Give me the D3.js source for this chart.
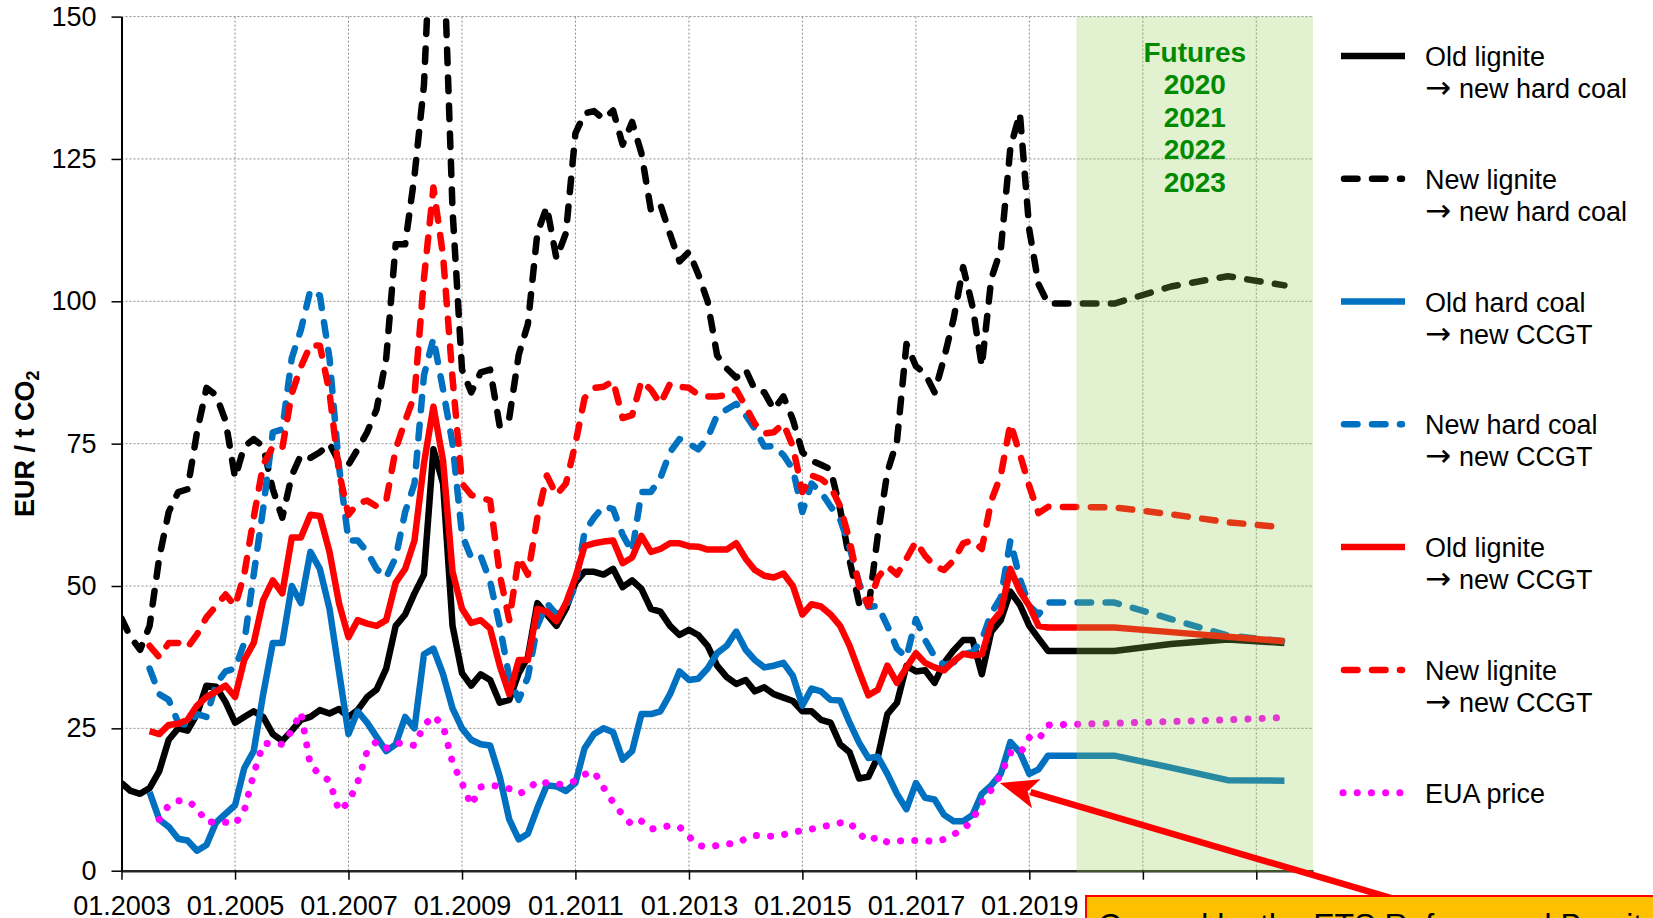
<!DOCTYPE html>
<html>
<head>
<meta charset="utf-8">
<title>Fuel switch CO2 prices</title>
<style>
body { margin: 0; background: #fff; }
svg { display: block; font-family: "Liberation Sans", Arial, sans-serif; }
.axis text { font-family: "Liberation Sans", Arial, sans-serif; font-size: 27px; fill: #000; }
.grid line { stroke: #8c8c8c; stroke-width: 1; stroke-dasharray: 2,2; }
.series { fill: none; stroke-linejoin: round; }
.legend text { font-size: 27px; fill: #000; }
.legend .arrow { font-family: "DejaVu Sans", sans-serif; font-size: 31px; }
.futures text { font-size: 28px; font-weight: bold; fill: #008a00; text-anchor: middle; }
</style>
</head>
<body>
<svg width="1653" height="918"></svg>
<script src="https://cdnjs.cloudflare.com/ajax/libs/d3/7.8.5/d3.min.js"></script>
<script>
// historic values: one point every 2 months from 01.2003 to 03.2019
const histStart = "2003-01";
// futures points (first one repeats the 2020 contract)
const futureDates = ["2019-05", "2020-07", "2021-07", "2022-07", "2023-07"];
const yTicks = [0, 25, 50, 75, 100, 125, 150];
const xTickYears = [2003, 2005, 2007, 2009, 2011, 2013, 2015, 2017, 2019, 2021, 2023];
const futuresLabel = ["Futures", "2020", "2021", "2022", "2023"];
const legendLabels = [
  ["Old lignite", "new hard coal"],
  ["New lignite", "new hard coal"],
  ["Old hard coal", "new CCGT"],
  ["New hard coal", "new CCGT"],
  ["Old lignite", "new CCGT"],
  ["New lignite", "new CCGT"],
  ["EUA price"]
];

const oldLigniteHardCoal = [
  15.4, 14, 13.5, 14.5, 17.5, 23,
  25, 24.6, 27.5, 32.5, 32.3, 29.6,
  26, 27, 28, 27, 24, 22.8,
  24.6, 26.5, 27, 28.2, 27.6, 28.4,
  27, 28.2, 30.5, 31.8, 35.5, 43,
  45, 48.7, 52, 74, 68, 43,
  34.7, 32.5, 34.5, 33.5, 29.5, 30,
  34.7, 37.5, 47, 45, 43, 46,
  50.6, 52.5, 52.5, 52, 53, 49.8,
  51, 49.5, 46, 45.5, 43, 41.4,
  42.3, 41.4, 39.5, 36, 34, 32.8,
  33.5, 31.5, 32.2, 31, 30.4, 29.8,
  28, 28, 26.5, 26, 22.2, 20.8,
  16.2, 16.5, 20, 27.5, 29.5, 36,
  35, 35.2, 33, 36.5, 38.7, 40.5,
  40.5, 34.5, 42, 44, 49, 46.7,
  43, 40.8
];
const oldLigniteHardCoalFut = [38.6, 38.6, 39.8, 40.6, 40.0];

const newLigniteHardCoal = [
  44.3, 41, 38.8, 43, 55, 63,
  66.5, 67, 77, 84.8, 83.5, 79,
  69, 74.5, 75.8, 74.5, 67, 62,
  69.4, 73, 72.5, 73.5, 75, 71.8,
  71.3, 74, 77, 81, 90, 110,
  110, 122, 138, 175, 165, 116,
  88, 84, 87.5, 88, 78, 79.5,
  90.6, 96, 112, 116.6, 107.5, 112,
  129.5, 133, 133.4, 132, 133.5, 127.5,
  131.5, 126, 116, 117, 111.8, 107,
  108.7, 104.8, 100, 90.5, 88.2, 86.6,
  88, 84.5, 84, 81, 83.3, 79.2,
  73.5, 72, 71.3, 70.5, 63.5, 54.5,
  47, 46, 59, 70, 75.5, 92.5,
  88.6, 87.3, 84, 90, 97, 106,
  99, 88.6, 104, 109, 127, 133,
  112.5, 103
];
const newLigniteHardCoalFut = [99.6, 99.6, 102.6, 104.4, 102.8];

const oldHardCoalCCGT = [
  null, null, null, 13.8, 9, 7.7,
  5.6, 5.3, 3.5, 4.5, 8.5, 10,
  11.5, 18, 21, 31, 40, 40,
  50, 47, 56, 53, 46, 35,
  24, 28, 26, 23.5, 21, 22.2,
  27, 25, 38, 39, 34.5, 28.5,
  25, 23, 22.2, 22, 16.5, 9,
  5.5, 6.5, 11, 15, 14.8, 14,
  15.4, 21.5, 24, 25, 24.3, 19.5,
  21, 27.5, 27.5, 28, 31, 35,
  33.5, 33.7, 35.5, 38.2, 39.5, 42,
  38.8, 37, 35.7, 36, 36.5, 34.2,
  29, 32, 31.5, 30, 29.9, 26,
  22.5, 19.8, 20, 17, 13.5, 10.8,
  15.4, 12.8, 12.5, 9.8, 8.7, 8.7,
  9.8, 13.5, 15, 17, 22.6, 20.8,
  17, 17.8
];
const oldHardCoalCCGTFut = [20.2, 20.2, 18.1, 15.9, 15.8];

const newHardCoalCCGT = [
  null, null, null, 35.5, 31, 30,
  26, 25.5, 27.5, 27, 32.8, 35,
  35.5, 40, 52, 63.6, 77, 77.5,
  90, 95, 102, 101, 90, 71,
  58, 58, 56, 53, 51.5, 55,
  63, 68, 87, 93.5, 84.5, 75,
  59, 55, 55.3, 50.8, 43, 34,
  30, 34, 43, 47, 45, 46.5,
  50, 59.5, 62, 64, 63.5, 59,
  56, 66.5, 66.5, 69, 73.5, 75.8,
  75, 74, 76, 80, 81, 82,
  80, 77.6, 74.5, 74.6, 73, 70.5,
  63, 68, 66.5, 64, 61.7, 56.8,
  50.5, 46.3, 46.5, 43, 39, 37.5,
  44.2, 40.5, 37.6, 36.1, 36.6, 38,
  38.4, 40.5, 45.2, 48, 58, 51.3,
  46.5, 45
];
const newHardCoalCCGTFut = [47.1, 47.1, 44.2, 41.3, 40.3];

const oldLigniteCCGT = [
  null, null, null, 24.5, 24, 25.6,
  25.8, 26.5, 29, 30.5, 31.5, 32.5,
  30.5, 37, 40, 47.5, 51, 48.7,
  58.5, 58.5, 62.5, 62.3, 56, 47,
  41, 44, 43.4, 43, 44, 50.6,
  53, 58, 71.5, 81.5, 72, 52.5,
  46, 43.5, 44, 42.5, 36, 31,
  37, 37, 46, 45.5, 43.8, 47,
  51.5, 57, 57.5, 57.8, 58, 54,
  55, 58.8, 56, 56.5, 57.5, 57.5,
  57, 56.9, 56.4, 56.4, 56.4, 57.5,
  54.8, 52.8, 51.8, 51.5, 52.2, 50,
  45, 46.8, 46.4, 45, 43, 39.5,
  35, 30.8, 31.8, 36, 33, 35.7,
  38.2, 36.5, 35.7, 35.2, 36.8, 38.1,
  37.8, 38, 43.5, 45.5, 53, 49.1,
  46.5, 43
];
const oldLigniteCCGTFut = [42.7, 42.7, 41.9, 41.1, 40.3];

const newLigniteCCGT = [
  null, null, null, 39.5, 37.5, 40,
  40, 39.2, 41.5, 44.5, 46.5, 48.5,
  46.5, 52, 62, 71.3, 74.5, 74.2,
  83.8, 88.5, 92.3, 92.2, 84, 70,
  62.5, 64.5, 65, 64, 65, 74,
  79, 83.5, 104, 120, 108, 86.5,
  68, 66, 65.5, 65, 52, 44,
  55, 52, 62, 69.4, 66, 68,
  75, 83, 84.8, 85, 86, 79.5,
  80, 86, 84.5, 82, 85.5, 85,
  84.8, 83.6, 83.3, 83.3, 83.5, 84.5,
  81.5, 78.5, 76.8, 77, 78.5, 74.5,
  66.5, 69.4, 68.8, 67.5, 64, 58,
  50, 46.5, 51.5, 53.5, 52, 54.8,
  57.8, 55.3, 53.5, 52.8, 54.5, 57.5,
  58, 56.5, 65, 69.4, 78.5, 73.2,
  67.5, 62.8
];
const newLigniteCCGTFut = [63.9, 63.8, 62.6, 61.2, 60.3];

const euaPrice = [
  null, null, null, null, 9, 11.5,
  12.3, 12.3, 11, 8.5, 8.6, 8.5,
  8.2, 10.5, 17, 22.3, 22.4, 22.2,
  24.6, 27.8, 18.5, 16.9, 15.8, 10.5,
  12, 15.5, 21, 22.7, 21.5, 22.5,
  22.2, 22, 25.5, 27.2, 25.5, 19,
  15.4, 11.5, 14.7, 15, 14.8, 14.4,
  13.5, 14.2, 15.8, 15.4, 15.2, 15.2,
  15.8, 16.9, 17.4, 14.6, 12, 9.8,
  8, 8.7, 7.3, 7.6, 7.9, 7.7,
  6, 4.4, 4.2, 4.4, 4.7, 4.8,
  5.6, 6.2, 6, 6.1, 6.3, 6.8,
  7, 7.3, 7.7, 8, 8.4, 8.5,
  6.5, 5.2, 6, 5, 5.2, 5.3,
  5.3, 5.3, 5.1, 5.5, 6.4, 7.2,
  9, 12, 14.2, 16.9, 20.7, 20.5,
  23.4, 23
];
const euaPriceFut = [25.6, 25.9, 26.2, 26.5, 26.9];

// annotation arrow (date, value)
const arrowTip = {date: "2018-06-25", value: 15.4};
const arrowTail = {date: "2025-06-10", value: -5};

let svg = d3.select("svg"),
    margin = {top: 16.6, left: 121.5},
    width = 1191.5,
    height = 854.1,
    g = svg.append("g").attr("transform", "translate(" + margin.left + "," + margin.top + ")");

let parseMonth = d3.timeParse("%Y-%m"),
    parseDay = d3.timeParse("%Y-%m-%d");
let histDates = oldLigniteHardCoal.map((d, i) => d3.timeMonth.offset(parseMonth(histStart), 2 * i));
let futDates = futureDates.map(parseMonth);

let x = d3.scaleTime()
    .domain([parseMonth("2003-01"), parseMonth("2024-01")])
    .range([0, width]);
let y = d3.scaleLinear()
    .domain([0, 150])
    .range([height, 0]);

let xTickDates = xTickYears.map(yr => new Date(yr, 0, 1));

// grid
let grid = g.append("g").attr("class", "grid");
grid.selectAll(".h").data(yTicks.filter(d => d > 0)).enter().append("line")
    .attr("x1", 0).attr("x2", width)
    .attr("y1", d => y(d)).attr("y2", d => y(d));
grid.selectAll(".v").data(xTickDates.slice(1)).enter().append("line")
    .attr("x1", d => x(d)).attr("x2", d => x(d))
    .attr("y1", 0).attr("y2", height);

g.append("defs").append("clipPath").attr("id", "clip")
  .append("rect").attr("width", width).attr("height", height);

let series = [
  {hist: oldLigniteHardCoal, fut: oldLigniteHardCoalFut, color: "#000000", dash: null},
  {hist: newLigniteHardCoal, fut: newLigniteHardCoalFut, color: "#000000", dash: "13.5,14.5"},
  {hist: oldHardCoalCCGT, fut: oldHardCoalCCGTFut, color: "#0070C0", dash: null},
  {hist: newHardCoalCCGT, fut: newHardCoalCCGTFut, color: "#0070C0", dash: "13.5,14.5"},
  {hist: oldLigniteCCGT, fut: oldLigniteCCGTFut, color: "#FF0000", dash: null},
  {hist: newLigniteCCGT, fut: newLigniteCCGTFut, color: "#FF0000", dash: "13.5,14.5"},
  {hist: euaPrice, fut: euaPriceFut, color: "#FF00FF", dash: "0.1,14.1", dotted: true}
];
series.forEach(s => {
  s.points = s.hist.map((v, i) => ({date: histDates[i], v: v}))
    .concat(s.fut.map((v, i) => ({date: futDates[i], v: v})));
});

let line = d3.line()
    .defined(d => d.v != null)
    .x(d => x(d.date))
    .y(d => y(d.v));

g.append("g")
    .attr("clip-path", "url(#clip)")
  .selectAll("path")
  .data(series)
  .enter().append("path")
    .attr("class", "series")
    .attr("d", d => line(d.points))
    .attr("stroke", d => d.color)
    .attr("stroke-width", d => d.dotted ? 7 : 6.5)
    .attr("stroke-dasharray", d => d.dash)
    .attr("stroke-linecap", d => d.dash ? "round" : "butt");

// axes
let xAxis = g.append("g")
    .attr("class", "axis axis--x")
    .attr("transform", "translate(0," + height + ")")
    .call(d3.axisBottom(x)
      .tickValues(xTickDates)
      .tickFormat(d3.timeFormat("%m.%Y"))
      .tickSizeInner(9)
      .tickSizeOuter(0)
      .tickPadding(16));
xAxis.select(".domain").attr("stroke", "#262626").attr("stroke-width", 2.5);
xAxis.selectAll(".tick line").attr("stroke", "#000").attr("stroke-width", 1.5);

let yAxis = g.append("g")
    .attr("class", "axis axis--y")
    .call(d3.axisLeft(y)
      .tickValues(yTicks)
      .tickSizeInner(10)
      .tickSizeOuter(0)
      .tickPadding(15));
yAxis.select(".domain").attr("stroke", "#000").attr("stroke-width", 2);
yAxis.selectAll(".tick line").attr("stroke", "#000").attr("stroke-width", 1.5);

// futures shading (semi-transparent, lies over the lines)
let shadeStart = x(parseMonth("2019-11"));
g.append("rect")
    .attr("x", shadeStart)
    .attr("y", 0)
    .attr("width", width - shadeStart)
    .attr("height", height + 1.5)
    .attr("fill", "#92D050")
    .attr("fill-opacity", 0.27);

g.append("g").attr("class", "futures")
  .selectAll("text").data(futuresLabel).enter().append("text")
    .attr("x", (shadeStart + width) / 2)
    .attr("y", (d, i) => 45 + i * 32.5)
    .text(d => d);

// y title
svg.append("text")
    .attr("transform", "translate(33.5," + (margin.top + height / 2) + ") rotate(-90)")
    .attr("text-anchor", "middle")
    .attr("font-size", 27)
    .attr("font-weight", "bold")
    .text("EUR / t CO")
  .append("tspan")
    .attr("font-size", 18)
    .attr("dy", "0.3em")
    .text("2");

// legend
let legend = svg.append("g").attr("class", "legend");
let rows = legend.selectAll("g").data(series).enter().append("g")
    .attr("transform", (d, i) => "translate(0," + (55.9 + i * 122.8) + ")");
rows.append("line")
    .attr("x1", d => d.dotted ? 1343 : (d.dash ? 1344 : 1341))
    .attr("x2", d => d.dotted ? 1401 : (d.dash ? 1402 : 1405))
    .attr("stroke", d => d.color)
    .attr("stroke-width", d => d.dotted ? 7 : 6.5)
    .attr("stroke-dasharray", d => d.dash)
    .attr("stroke-linecap", d => d.dash ? "round" : "butt");
rows.each(function(d, i) {
  let labels = legendLabels[i];
  let row = d3.select(this);
  row.append("text").attr("x", 1425).attr("y", 10).text(labels[0]);
  if (labels.length > 1) {
    let t = row.append("text").attr("x", 1425).attr("y", 42);
    t.append("tspan").attr("class", "arrow").text("\u2192");
    t.append("tspan").attr("dx", 8).text(labels[1]);
  }
});

// annotation: arrow and callout box
let tip = [margin.left + x(parseDay(arrowTip.date)), margin.top + y(arrowTip.value)],
    tail = [margin.left + x(parseDay(arrowTail.date)), margin.top + y(arrowTail.value)];
let dx = tail[0] - tip[0], dy = tail[1] - tip[1], len = Math.hypot(dx, dy);
let ux = dx / len, uy = dy / len, hl = 38, hw = 15;
svg.append("line")
    .attr("x1", tail[0]).attr("y1", tail[1])
    .attr("x2", tip[0] + ux * (hl - 6)).attr("y2", tip[1] + uy * (hl - 6))
    .attr("stroke", "#FF0000").attr("stroke-width", 6.5);
svg.append("path")
    .attr("d", "M" + tip[0] + "," + tip[1] +
      "L" + (tip[0] + ux * hl - uy * hw) + "," + (tip[1] + uy * hl + ux * hw) +
      "L" + (tip[0] + ux * (hl - 9)) + "," + (tip[1] + uy * (hl - 9)) +
      "L" + (tip[0] + ux * hl + uy * hw) + "," + (tip[1] + uy * hl - ux * hw) + "Z")
    .attr("fill", "#FF0000");

svg.append("rect")
    .attr("x", 1086).attr("y", 896)
    .attr("width", 600).attr("height", 60)
    .attr("fill", "#FFC000")
    .attr("stroke", "#FF0000")
    .attr("stroke-width", 2);
svg.append("text")
    .attr("x", 1098).attr("y", 936)
    .attr("font-size", 32)
    .text("Caused by the ETS Reform and Brexit");
</script>
</body>
</html>
